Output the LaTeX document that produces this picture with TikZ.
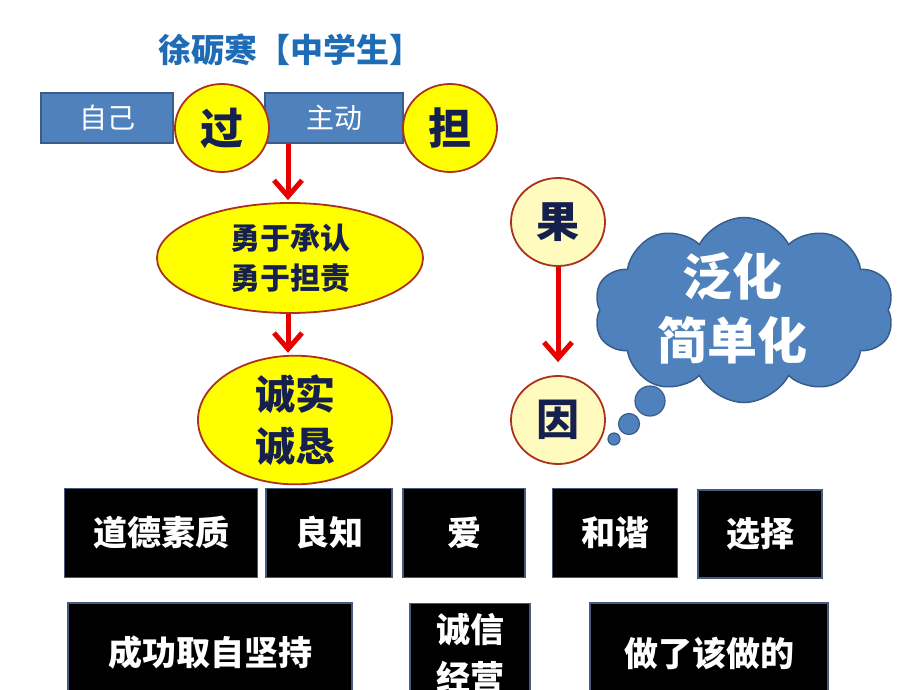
\documentclass[tikz,border=0pt]{standalone}
\usepackage{fontspec}
\setmainfont{Noto Sans CJK SC}
\usetikzlibrary{arrows.meta,shapes.geometric,shapes.symbols}

\definecolor{titleblue}{RGB}{31,108,182}
\definecolor{boxblue}{RGB}{79,129,189}
\definecolor{boxline}{RGB}{56,93,138}
\definecolor{ringred}{RGB}{170,50,30}
\definecolor{brightyellow}{RGB}{255,255,0}
\definecolor{paleyellow}{RGB}{255,250,190}
\definecolor{inknavy}{RGB}{22,32,78}
\definecolor{arrowred}{RGB}{230,0,0}
\definecolor{boxedge}{RGB}{70,90,125}

\tikzset{
  bluebox/.style={draw=boxline, fill=boxblue, line width=1.2pt, inner sep=0pt,
    minimum width=132pt, minimum height=50pt, text=white,
    font=\fontsize{28}{30}\selectfont},
  yellowdot/.style={ellipse, draw=ringred, fill=brightyellow, line width=1.8pt,
    inner sep=0pt, minimum width=94pt, minimum height=88pt, text=inknavy,
    font=\bfseries\fontsize{43}{44}\selectfont},
  paledot/.style={yellowdot, fill=paleyellow},
  bigoval/.style={ellipse, draw=ringred, fill=brightyellow, line width=1.8pt,
    inner sep=0pt, text=inknavy, align=center},
  darkbox/.style={draw=boxedge, fill=black, line width=1.2pt, inner sep=0pt,
    text=white, font=\bfseries\fontsize{34}{37}\selectfont},
  redarrow/.style={draw=arrowred, line width=5pt,
    -{Straight Barb[length=16pt,width=28pt]}},
}

\begin{document}
\begin{tikzpicture}[x=1pt,y=-1pt]
  \clip (0,0) rectangle (920,690);
  \fill[white] (0,0) rectangle (920,690);

  % top line
  \node[text=titleblue, font=\bfseries\fontsize{33}{35}\selectfont] (title) at (290,50) {徐砺寒【中学生】};
  \node[bluebox] (self) at (107,118) {自己};
  \node[bluebox, minimum width=138pt] (active) at (334,118) {主动};
  \node[yellowdot] (guo) at (222,128) {过};
  \node[yellowdot] (dan) at (450,128) {担};

  % left chain
  \node[bigoval, minimum width=266pt, minimum height=110pt,
    font=\bfseries\fontsize{30}{40}\selectfont] (brave) at (290,258) {勇于承认\\勇于担责};
  \node[bigoval, minimum width=194pt, minimum height=117pt,
    font=\bfseries\fontsize{40}{52}\selectfont] (honest) at (295,420) {诚实\\诚恳};
  \coordinate (down) at (active.south -| 288,0);
  \draw[redarrow] (down) -- ([yshift=2pt]brave.north -| 288,0);
  \draw[redarrow] (brave.south -| 288,0) -- ([yshift=2pt]honest.north -| 288,0);

  % right chain
  \node[paledot] (fruit) at (558,222) {果};
  \node[paledot] (cause) at (558,420) {因};
  \draw[redarrow] (fruit.south) -- ([yshift=13pt]cause.north);

  % thought cloud
  \node[cloud, cloud puffs=10, cloud puff arc=125, aspect=1.6, draw=boxline,
    fill=boxblue, line width=1.5pt, inner sep=0pt, minimum width=300pt,
    minimum height=185pt] (cloud) at (744,310) {};
  \node[text=white, align=center, font=\bfseries\fontsize{50}{64}\selectfont] (cloudtext) at (732,308) {泛化\\简单化};
  \node[circle, draw=boxline, fill=boxblue, line width=1.2pt, minimum size=30pt, inner sep=0pt] (puffa) at (650,401) {};
  \node[circle, draw=boxline, fill=boxblue, line width=1.2pt, minimum size=21pt, inner sep=0pt] (puffb) at (629,424) {};
  \node[circle, draw=boxline, fill=boxblue, line width=1.2pt, minimum size=12pt, inner sep=0pt] (puffc) at (614,439) {};

  % first row
  \node[darkbox, minimum width=193pt, minimum height=89pt] (virtue) at (161,533) {道德素质};
  \node[darkbox, minimum width=126pt, minimum height=89pt] (conscience) at (329,533) {良知};
  \node[darkbox, minimum width=122pt, minimum height=89pt] (love) at (464,533) {爱};
  \node[darkbox, minimum width=125pt, minimum height=89pt] (harmony) at (615,533) {和谐};
  \node[darkbox, minimum width=124pt, minimum height=88pt] (choice) at (760,534) {选择};

  % second row
  \node[darkbox, minimum width=284pt, minimum height=100pt] (persist) at (210,653) {成功取自坚持};
  \node[darkbox, minimum width=120pt, minimum height=100pt, anchor=north,
    align=center, font=\bfseries\fontsize{34}{48}\selectfont] (trust) at (470,603) {诚信\\经营};
  \node[darkbox, minimum width=238pt, minimum height=100pt] (duty) at (709,653) {做了该做的};
\end{tikzpicture}
\end{document}
